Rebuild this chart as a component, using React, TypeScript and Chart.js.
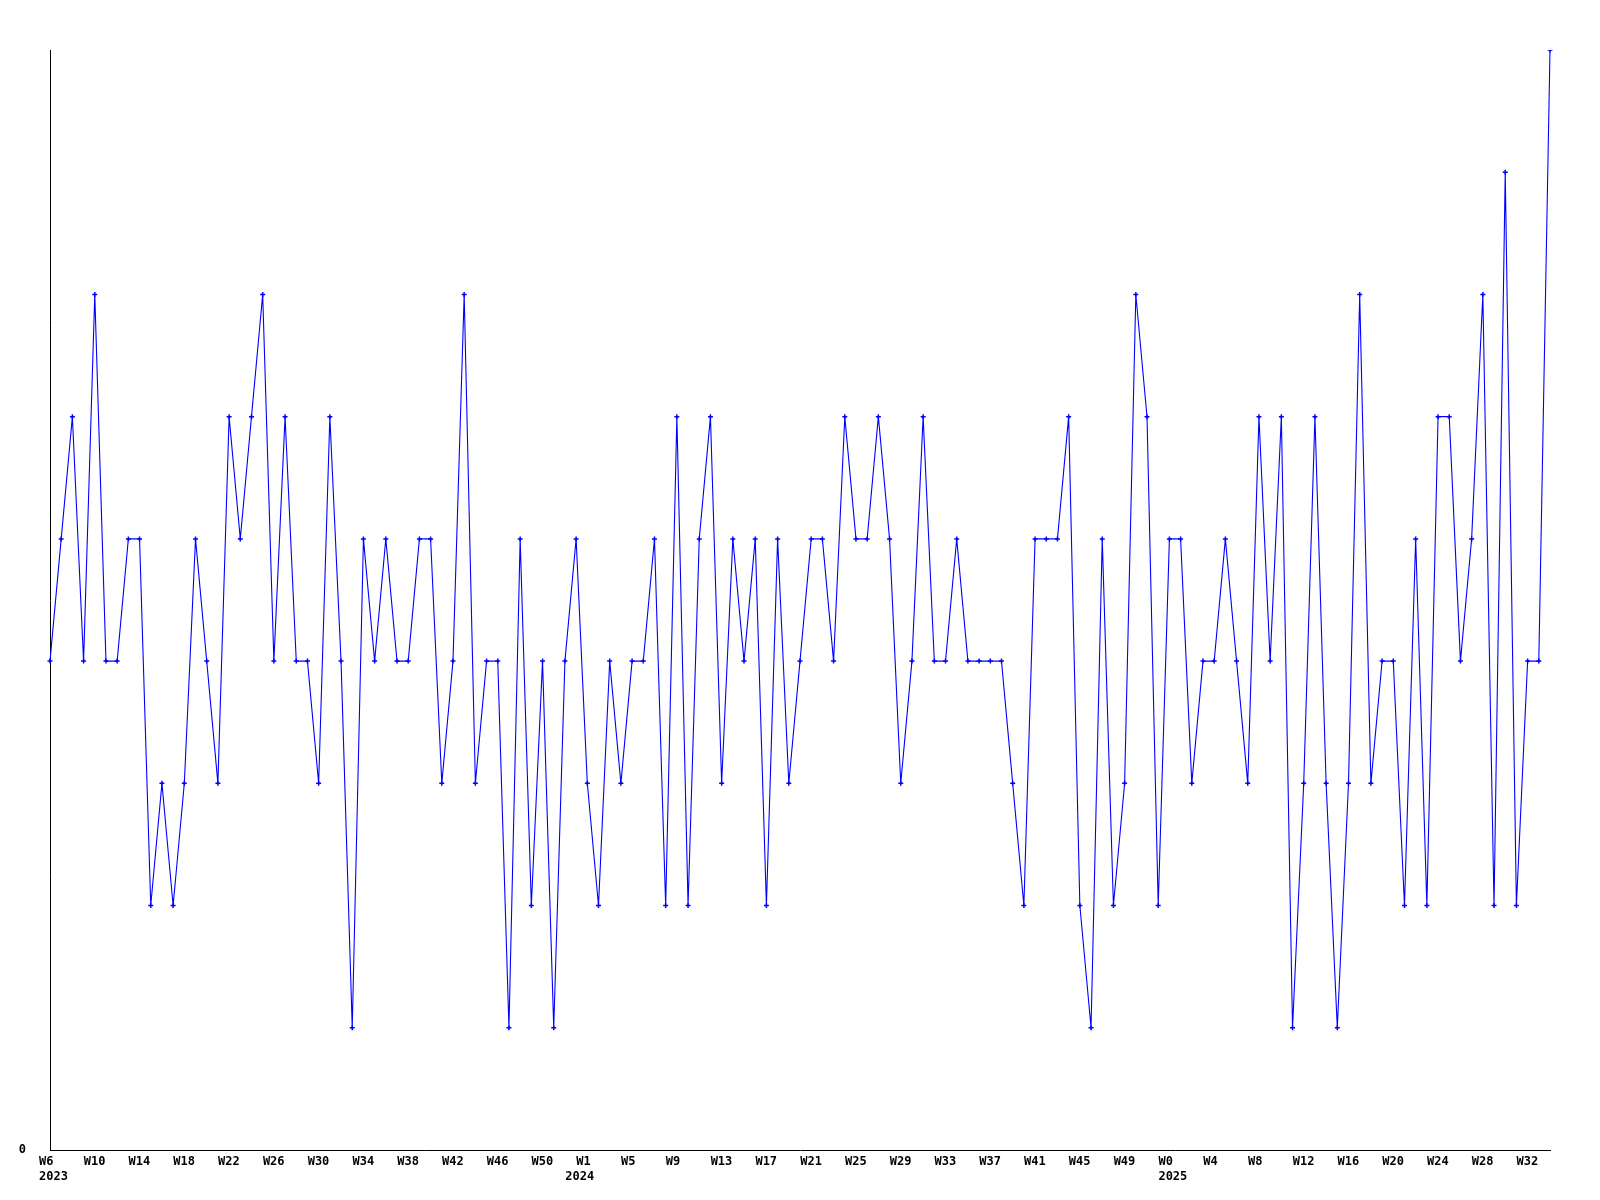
import React, { useEffect, useRef } from "react";
import { Chart, registerables } from "chart.js";

Chart.register(...registerables);

// Weekly values, per year
const values2023 = [4, 5, 6, 4, 7, 4, 4, 5, 5, 2, 3, 2, 3, 5, 4, 3, 6, 5, 6, 7, 4, 6, 4, 4, 3, 6, 4, 1, 5, 4, 5, 4, 4, 5, 5, 3, 4, 7, 3, 4, 4, 1, 5, 2, 4, 1, 4, 5];
const values2024 = [3, 2, 4, 3, 4, 4, 5, 2, 6, 2, 5, 6, 3, 5, 4, 5, 2, 5, 3, 4, 5, 5, 4, 6, 5, 5, 6, 5, 3, 4, 6, 4, 4, 5, 4, 4, 4, 4, 3, 2, 5, 5, 5, 6, 2, 1, 5, 2, 3, 7, 6, 2];
const values2025 = [5, 5, 3, 4, 4, 5, 4, 3, 6, 4, 6, 1, 3, 6, 3, 1, 3, 7, 3, 4, 4, 2, 5, 2, 6, 6, 4, 5, 7, 2, 8, 2, 4, 4, 9];

// Year names and the week number of each year's first point
const years = ["2023", "2024", "2025"];
const firstWeeks = [6, 1, 0];

const yTickLabels = ["0"];

// horizontal placement of the year captions relative to their first tick (style)
const yearCaptionShift = [-11, -22, -11];

function weekLabels(first: number, count: number): string[] {
  const out: string[] = [];
  for (let i = 0; i < count; i++) out.push("W" + (first + i));
  return out;
}

const seriesByYear = [values2023, values2024, values2025];

export default function App() {
  const ref = useRef<HTMLCanvasElement | null>(null);

  useEffect(() => {
    if (!ref.current) return;
    const labels: string[] = [];
    const yearStarts: number[] = [];
    const data: number[] = [];
    seriesByYear.forEach((vals, yi) => {
      yearStarts.push(labels.length);
      labels.push(...weekLabels(firstWeeks[yi], vals.length));
      data.push(...vals);
    });

    const fontFamily = "'DejaVu Sans Mono', monospace";
    const font = { family: fontFamily, size: 12, weight: "bold" as const, lineHeight: 1.3 };

    const yearCaptions = {
      id: "yearCaptions",
      afterDraw(chart: any) {
        const ctx = chart.ctx;
        const xs = chart.scales.x;
        ctx.save();
        ctx.font = "bold 12px " + fontFamily;
        ctx.fillStyle = "#000000";
        ctx.textAlign = "left";
        ctx.textBaseline = "middle";
        const y = chart.chartArea.bottom + 27;
        yearStarts.forEach((idx, yi) => {
          const x = xs.getPixelForValue(idx) + yearCaptionShift[yi];
          ctx.fillText(years[yi], x, y);
        });
        ctx.restore();
      },
    };

    const chart = new Chart(ref.current, {
      type: "line",
      data: {
        labels,
        datasets: [
          {
            data,
            borderColor: "#0000ff",
            backgroundColor: "#0000ff",
            borderWidth: 1.1,
            pointStyle: "cross",
            pointRadius: 2.5,
            pointBorderWidth: 1.5,
            pointBorderColor: "#0000ff",
            pointBackgroundColor: "#0000ff",
            tension: 0,
            fill: false,
          },
        ],
      },
      options: {
        responsive: false,
        animation: false,
        layout: { padding: { left: 0, right: 50, top: 50, bottom: 0 } },
        plugins: { legend: { display: false }, tooltip: { enabled: false } },
        scales: {
          x: {
            type: "category",
            offset: false,
            grid: { display: false, drawTicks: false },
            border: { display: true, color: "#000000", width: 1 },
            afterFit: (scale: any) => {
              scale.height = 50;
            },
            ticks: {
              autoSkip: false,
              maxRotation: 0,
              minRotation: 0,
              align: "start",
              labelOffset: -11,
              padding: 4,
              color: "#000000",
              font,
              callback: (_v: any, i: number) => (i % 4 === 0 ? labels[i] : ""),
            },
          },
          y: {
            min: 0,
            max: 9,
            grid: { display: false, drawTicks: false },
            border: { display: true, color: "#000000", width: 1 },
            afterFit: (scale: any) => {
              scale.width = 50;
            },
            afterBuildTicks: (scale: any) => {
              scale.ticks = yTickLabels.map((t) => ({ value: Number(t) }));
            },
            ticks: {
              padding: 24,
              color: "#000000",
              font,
              callback: (v: any) => String(v),
            },
          },
        },
      },
      plugins: [yearCaptions],
    });
    return () => chart.destroy();
  }, []);

  return (
    <div style={{ position: "absolute", left: 0, top: 0, width: 1600, height: 1200, background: "#fff" }}>
      <canvas ref={ref} width={1600} height={1200} />
    </div>
  );
}
